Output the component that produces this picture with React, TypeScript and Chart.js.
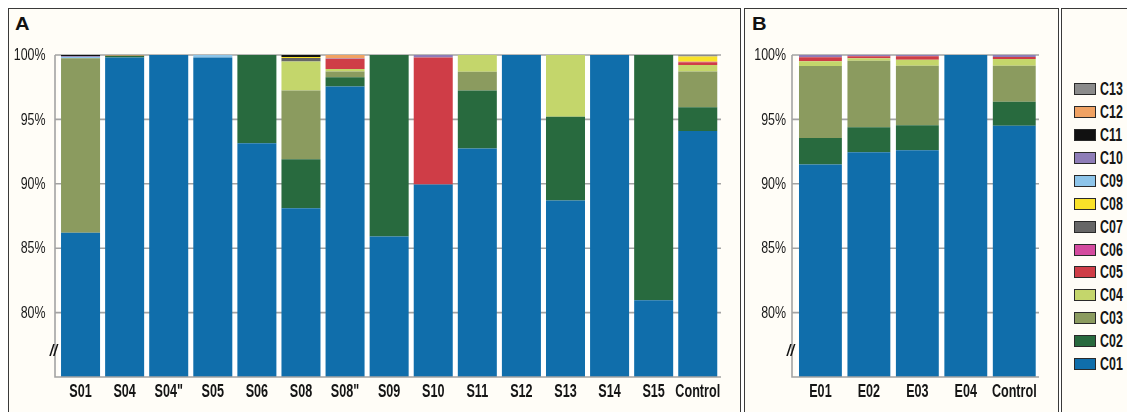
import React, { useEffect, useRef } from "react";
import { Chart, registerables } from "chart.js";

Chart.register(...registerables);

// ---------- data ----------
const seriesNames = ["C01", "C02", "C03", "C04", "C05", "C06", "C07", "C08", "C09", "C10", "C11", "C12", "C13"];
const seriesColors = [
  "#106eab", "#286a3e", "#8b9b5f", "#c4d66b", "#cf3d47", "#d44b9f", "#666666",
  "#f9e229", "#8ec5e9", "#8e7db7", "#111111", "#f0a263", "#8b8b8b",
];

const categoriesA = ["S01", "S04", 'S04"', "S05", "S06", "S08", 'S08"', "S09", "S10", "S11", "S12", "S13", "S14", "S15", "Control"];
const a_C01 = [86.2, 99.8, 100, 99.8, 93.15, 88.1, 97.55, 85.9, 89.95, 92.75, 100, 88.7, 100, 80.95, 94.1];
const a_C02 = [0, 0.15, 0, 0, 6.85, 3.8, 0.72, 14.1, 0, 4.5, 0, 6.5, 0, 19.05, 1.85];
const a_C03 = [13.55, 0, 0, 0, 0, 5.35, 0.45, 0, 0, 1.45, 0, 0, 0, 0, 2.77];
const a_C04 = [0, 0, 0, 0, 0, 2.25, 0.2, 0, 0, 1.3, 0, 4.8, 0, 0, 0.51];
const a_C05 = [0, 0, 0, 0, 0, 0, 0.78, 0, 9.85, 0, 0, 0, 0, 0, 0.2];
const a_C06 = [0, 0, 0, 0, 0, 0, 0, 0, 0, 0, 0, 0, 0, 0, 0.05];
const a_C07 = [0, 0, 0, 0, 0, 0.27, 0, 0, 0, 0, 0, 0, 0, 0, 0];
const a_C08 = [0, 0, 0, 0, 0, 0.08, 0, 0, 0, 0, 0, 0, 0, 0, 0.4];
const a_C09 = [0.1, 0, 0, 0.2, 0, 0, 0, 0, 0, 0, 0, 0, 0, 0, 0];
const a_C10 = [0.05, 0, 0, 0, 0, 0, 0.05, 0, 0.2, 0, 0, 0, 0, 0, 0];
const a_C11 = [0.1, 0, 0, 0, 0, 0.15, 0, 0, 0, 0, 0, 0, 0, 0, 0];
const a_C12 = [0, 0.05, 0, 0, 0, 0, 0.25, 0, 0, 0, 0, 0, 0, 0, 0];
const a_C13 = [0, 0, 0, 0, 0, 0, 0, 0, 0, 0, 0, 0, 0, 0, 0.12];
const valuesA = [a_C01, a_C02, a_C03, a_C04, a_C05, a_C06, a_C07, a_C08, a_C09, a_C10, a_C11, a_C12, a_C13];

const categoriesB = ["E01", "E02", "E03", "E04", "Control"];
const b_C01 = [91.5, 92.45, 92.6, 100, 94.5];
const b_C02 = [2.05, 1.95, 1.95, 0, 1.87];
const b_C03 = [5.6, 5.16, 4.62, 0, 2.8];
const b_C04 = [0.36, 0.18, 0.47, 0, 0.52];
const b_C05 = [0.31, 0.16, 0.26, 0, 0.15];
const b_C06 = [0, 0, 0, 0, 0];
const b_C07 = [0, 0, 0, 0, 0];
const b_C08 = [0, 0, 0, 0, 0];
const b_C09 = [0, 0, 0, 0, 0];
const b_C10 = [0.18, 0.1, 0.1, 0, 0.16];
const b_C11 = [0, 0, 0, 0, 0];
const b_C12 = [0, 0, 0, 0, 0];
const b_C13 = [0, 0, 0, 0, 0];
const valuesB = [b_C01, b_C02, b_C03, b_C04, b_C05, b_C06, b_C07, b_C08, b_C09, b_C10, b_C11, b_C12, b_C13];

const yTicks = [80, 85, 90, 95, 100];
const yMin = 75;
const yMax = 100;

// ---------- styles ----------
const FONT = "'Liberation Sans', Arial, sans-serif";
const PANEL_BG = "#fffdf7";
const GRID = "#a3a3a3";

type PanelCfg = {
  categories: string[];
  values: number[][];
  width: number;
  yAxisWidth: number;
  padRight: number;
  axisX: number;
  lineRight: number;
  yLabelRight: number;
};

function narrowText(ctx: CanvasRenderingContext2D, text: string, x: number, y: number, sx: number) {
  ctx.save();
  ctx.translate(x, y);
  ctx.scale(sx, 1);
  ctx.fillText(text, 0, 0);
  ctx.restore();
}

function makeChart(canvas: HTMLCanvasElement, cfg: PanelCfg) {
  const decor = {
    id: "decor",
    beforeDraw(chart: any) {
      const { ctx, chartArea } = chart;
      ctx.save();
      ctx.fillStyle = "#ffffff";
      ctx.fillRect(chartArea.left, chartArea.top, chartArea.right - chartArea.left, chartArea.bottom - chartArea.top);
      ctx.restore();
    },
    beforeDatasetsDraw(chart: any) {
      const { ctx } = chart;
      const ys = chart.scales.y;
      ctx.save();
      ctx.strokeStyle = GRID;
      ctx.lineWidth = 1.6;
      yTicks.forEach((v) => {
        const py = ys.getPixelForValue(v);
        ctx.beginPath();
        ctx.moveTo(cfg.axisX, py);
        ctx.lineTo(cfg.lineRight, py);
        ctx.stroke();
      });
      ctx.restore();
    },
    afterDatasetsDraw(chart: any) {
      const { ctx, chartArea } = chart;
      const ys = chart.scales.y;
      const xs = chart.scales.x;
      ctx.save();
      ctx.strokeStyle = GRID;
      ctx.lineWidth = 1.6;
      ctx.beginPath();
      ctx.moveTo(cfg.axisX, ys.getPixelForValue(yMax));
      ctx.lineTo(cfg.axisX, chartArea.bottom);
      ctx.lineTo(cfg.lineRight, chartArea.bottom);
      ctx.stroke();

      // y tick labels
      ctx.fillStyle = "#1a1a1a";
      ctx.font = `17px ${FONT}`;
      ctx.textAlign = "right";
      ctx.textBaseline = "middle";
      yTicks.forEach((v) => {
        narrowText(ctx, `${v}%`, cfg.yLabelRight, ys.getPixelForValue(v) + 0.5, 0.73);
      });

      // x category labels
      ctx.fillStyle = "#151515";
      ctx.font = `bold 18px ${FONT}`;
      ctx.textAlign = "center";
      ctx.textBaseline = "middle";
      const labels: string[] = chart.data.labels;
      labels.forEach((lab, i) => {
        narrowText(ctx, lab, xs.getPixelForValue(i), chartArea.bottom + 15.5, 0.7);
      });

      // axis break mark
      const breakY = ys.getPixelForValue(77);
      ctx.fillStyle = "#111";
      ctx.font = `italic bold 16px ${FONT}`;
      ctx.textAlign = "center";
      ctx.textBaseline = "middle";
      narrowText(ctx, "//", cfg.axisX - 1.5, breakY, 0.85);
      ctx.restore();
    },
  };

  return new Chart(canvas, {
    type: "bar",
    data: {
      labels: cfg.categories,
      datasets: cfg.values.map((vals, i) => ({
        label: seriesNames[i],
        data: vals,
        backgroundColor: seriesColors[i],
        borderWidth: 0,
        barPercentage: 0.885,
        categoryPercentage: 1,
      })),
    },
    options: {
      animation: false,
      responsive: false,
      maintainAspectRatio: false,
      layout: { padding: { left: 0, top: 55, right: cfg.padRight, bottom: 0 } },
      plugins: { legend: { display: false }, tooltip: { enabled: false } },
      scales: {
        x: {
          stacked: true,
          grid: { display: false, drawTicks: false },
          border: { display: false },
          ticks: { display: false, autoSkip: false },
          afterFit: (s: any) => {
            s.height = 35;
          },
        },
        y: {
          stacked: true,
          min: yMin,
          max: yMax,
          grid: { display: false, drawTicks: false },
          border: { display: false },
          ticks: { display: false },
          afterBuildTicks: (s: any) => {
            s.ticks = yTicks.map((v) => ({ value: v }));
          },
          afterFit: (s: any) => {
            s.width = cfg.yAxisWidth;
          },
        },
      },
    },
    plugins: [decor],
  } as any);
}

function ChartCanvas({ cfg, left }: { cfg: PanelCfg; left: number }) {
  const ref = useRef<HTMLCanvasElement | null>(null);
  useEffect(() => {
    if (!ref.current) return;
    const c = makeChart(ref.current, cfg);
    return () => c.destroy();
  }, []);
  return (
    <canvas
      ref={ref}
      width={cfg.width}
      height={412}
      style={{ position: "absolute", left, top: 0, width: cfg.width, height: 412 }}
    />
  );
}

const panelA: PanelCfg = {
  categories: categoriesA,
  values: valuesA,
  width: 740,
  yAxisWidth: 58.5,
  padRight: 20.2,
  axisX: 55,
  lineRight: 721,
  yLabelRight: 45.5,
};

const panelB: PanelCfg = {
  categories: categoriesB,
  values: valuesB,
  width: 313,
  yAxisWidth: 51.2,
  padRight: 19.5,
  axisX: 47,
  lineRight: 294,
  yLabelRight: 41,
};

const frame = (left: number, width: number): React.CSSProperties => ({
  position: "absolute",
  left,
  top: 8,
  width,
  height: 430,
  border: "1.6px solid #3a3a3a",
  background: PANEL_BG,
  boxSizing: "border-box",
});

const letterStyle = (left: number): React.CSSProperties => ({
  position: "absolute",
  left,
  top: 15,
  font: `bold 18px ${FONT}`,
  lineHeight: "18px",
  color: "#111",
  transform: "scaleX(1.12)",
  transformOrigin: "left center",
});

export default function App() {
  const legendOrder = seriesNames.map((_, i) => i).reverse();
  return (
    <div
      style={{
        position: "fixed",
        left: 0,
        top: 0,
        width: 1127,
        height: 412,
        overflow: "hidden",
        background: "#ffffff",
      }}
    >
      <div style={frame(8, 732.5)} />
      <div style={frame(744, 314.5)} />
      <div style={frame(1060.5, 90)} />
      <div style={letterStyle(15)}>A</div>
      <div style={letterStyle(752)}>B</div>
      <ChartCanvas cfg={panelA} left={0} />
      <ChartCanvas cfg={panelB} left={745} />
      {legendOrder.map((idx, k) => {
        const cy = 89.2 + k * 22.9;
        return (
          <div
            key={seriesNames[idx]}
            style={{
              position: "absolute",
              left: 1074,
              top: cy - 9,
              height: 18,
              display: "flex",
              alignItems: "center",
            }}
          >
            <div
              style={{
                width: 22,
                height: 12,
                boxSizing: "border-box",
                border: "1.2px solid #2a2a2a",
                background: seriesColors[idx],
                flex: "none",
              }}
            />
            <div
              style={{
                marginLeft: 4,
                font: `bold 18px ${FONT}`,
                lineHeight: "18px",
                color: "#151515",
                transform: "scaleX(0.69)",
                transformOrigin: "left center",
                whiteSpace: "nowrap",
              }}
            >
              {seriesNames[idx]}
            </div>
          </div>
        );
      })}
    </div>
  );
}
